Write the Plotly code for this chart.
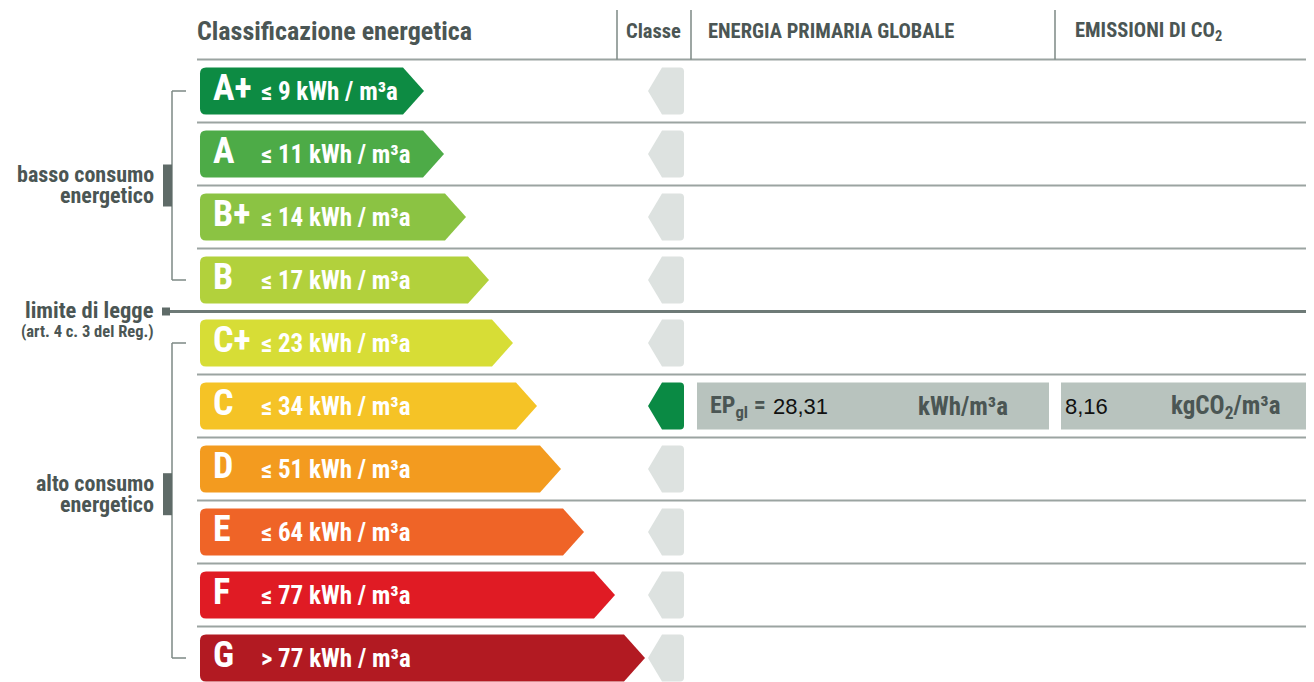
import plotly.graph_objects as go

# ---------------- data ----------------
classes = ["A+", "A", "B+", "B", "C+", "C", "D", "E", "F", "G"]
limits = ["≤ 9", "≤ 11", "≤ 14", "≤ 17", "≤ 23", "≤ 34", "≤ 51", "≤ 64", "≤ 77", "> 77"]
unit = "kWh / m³a"
arrow_len = [224, 244, 266, 289, 313, 337, 361, 384, 415, 445]
bar_colors = ["#0d8b43", "#4dab47", "#8bc343", "#b2d13c", "#d7dd36",
              "#f5c326", "#f39b1f", "#ef6427", "#e01b24", "#b21a22"]
active_class = "C"
ep_label = "EP<sub>gl</sub> ="
ep_value = "28,31"
ep_unit = "kWh/m³a"
co2_value = "8,16"
co2_unit = "kgCO<sub>2</sub>/m³a"
headers = ["Classificazione energetica", "Classe", "ENERGIA PRIMARIA GLOBALE", "EMISSIONI DI CO<sub>2</sub>"]
groups = [(["basso consumo", "energetico"], "A+", "B"), (["alto consumo", "energetico"], "C+", "G")]
limit_label = "limite di legge"
limit_note = "(art. 4 c. 3 del Reg.)"
limit_after = "B"

# ---------------- geometry helpers ----------------
W, H = 1314, 682
OFF = 8                      # default page margin of the html body
ROW0, ROWH = 91, 63          # pixel centre of first row, row pitch


def py(px):
    return (px - ROW0) / ROWH


COND = "Liberation Sans Narrow, Roboto Condensed, Arial Narrow, DejaVu Sans Condensed, sans-serif"
PLAIN = "Liberation Sans, Arial, sans-serif"
GRAY_TXT = "#4b5654"
LINE = "#9ba4a1"

shapes = []
ann = []
half = 23.5 / ROWH
n = len(classes)


def text(x, y, t, size, color=GRAY_TXT, family=COND, xanchor="left"):
    ann.append(dict(x=x, y=y, text=t, xanchor=xanchor, yanchor="middle", showarrow=False,
                    font=dict(family=family, size=size, color=color)))


# header
shapes.append(dict(type="line", x0=197, x1=W, y0=-0.5, y1=-0.5, line=dict(color=LINE, width=2)))
for xv in (617, 691, 1055):
    shapes.append(dict(type="line", x0=xv, x1=xv, y0=py(10), y1=-0.5, line=dict(color="#7d8885", width=1.5)))
for txt, xv, sz in zip(headers, (195, 624, 706, 1073), (26, 20.5, 20.5, 20.5)):
    text(xv, py(31), f"<b>{txt}</b>", sz)

# row separators
for i in range(n - 1):
    shapes.append(dict(type="line", x0=197, x1=W, y0=i + 0.5, y1=i + 0.5, line=dict(color=LINE, width=2)))

# class bars (arrow shaped)
r = 6
for i, (c, lim, L, col) in enumerate(zip(classes, limits, arrow_len, bar_colors)):
    x0 = 200
    x1 = x0 + L
    xt = x1 - 21
    t, b = i - half, i + half
    ry = r / ROWH
    path = (f"M {x0 + r},{t} L {xt},{t} L {x1},{i} L {xt},{b} L {x0 + r},{b} "
            f"Q {x0},{b} {x0},{b - ry} L {x0},{t + ry} Q {x0},{t} {x0 + r},{t} Z")
    shapes.append(dict(type="path", path=path, fillcolor=col, line=dict(width=0), layer="above"))
    text(211, i - 0.05, f"<b>{c}</b>", 36, color="white")
    text(259, i + 0.0, f"<b>{lim} {unit}</b>", 25, color="white")
    # class indicator arrow
    acol = "#0a8a44" if c == active_class else "#dde2e0"
    ax0, axt, ax1 = 648, 662, 684
    path = (f"M {ax1 - 4},{t} L {axt},{t} L {ax0},{i} L {axt},{b} L {ax1 - 4},{b} "
            f"Q {ax1},{b} {ax1},{b - 4 / ROWH} L {ax1},{t + 4 / ROWH} Q {ax1},{t} {ax1 - 4},{t} Z")
    shapes.append(dict(type="path", path=path, fillcolor=acol, line=dict(width=0)))

# value boxes on active row
ia = classes.index(active_class)
for bx0, bx1 in ((697, 1049), (1061, W)):
    shapes.append(dict(type="rect", x0=bx0, x1=bx1, y0=ia - half, y1=ia + half,
                       fillcolor="#b8c3be", line=dict(width=0)))
text(708, ia + 0.01, f"<b>{ep_label}</b>", 24)
text(771, ia, ep_value, 22, color="#111", family=PLAIN)
text(916, ia, f"<b>{ep_unit}</b>", 25)
text(1063, ia, co2_value, 22, color="#111", family=PLAIN)
text(1169, ia + 0.01, f"<b>{co2_unit}</b>", 25)

# groups / brackets
for lines, a, b_ in groups:
    i0, i1 = classes.index(a), classes.index(b_)
    shapes.append(dict(type="line", x0=172, x1=172, y0=i0, y1=i1, line=dict(color="#7d8885", width=1.5)))
    for yy in (i0, i1):
        shapes.append(dict(type="line", x0=172, x1=186, y0=yy, y1=yy, line=dict(color="#7d8885", width=1.5)))
    mid = (i0 + i1) / 2 - (0 if i1 - i0 < 4 else 0.1)
    shapes.append(dict(type="rect", x0=163, x1=172, y0=mid - 21 / ROWH, y1=mid + 21 / ROWH,
                       fillcolor="#5f6b68", line=dict(width=0)))
    text(156, mid - 11 / ROWH, f"<b>{lines[0]}</b>", 22, xanchor="right")
    text(156, mid + 10 / ROWH, f"<b>{lines[1]}</b>", 22, xanchor="right")

# legal limit line
il = classes.index(limit_after) + 0.5
shapes.append(dict(type="line", x0=170, x1=W, y0=il, y1=il, line=dict(color="#6e7a77", width=3)))
shapes.append(dict(type="rect", x0=162, x1=170, y0=il - 4 / ROWH, y1=il + 4 / ROWH,
                   fillcolor="#5f6b68", line=dict(width=0)))
text(156, il - 0.02, f"<b>{limit_label}</b>", 22.5, xanchor="right")
text(156, il + 0.31, f"<b>{limit_note}</b>", 16.5, xanchor="right")

fig = go.Figure()
fig.add_trace(go.Scatter(x=[OFF, W], y=[0, 0], mode="markers", marker=dict(opacity=0), hoverinfo="skip",
                         showlegend=False))
fig.update_layout(
    width=W - OFF, height=H - OFF, margin=dict(l=0, r=0, t=0, b=0),
    paper_bgcolor="white", plot_bgcolor="white",
    xaxis=dict(range=[OFF, W], visible=False, fixedrange=True),
    yaxis=dict(range=[py(H), py(OFF)], visible=False, fixedrange=True),
    shapes=shapes, annotations=ann, showlegend=False,
)
fig.write_html("out.html")
